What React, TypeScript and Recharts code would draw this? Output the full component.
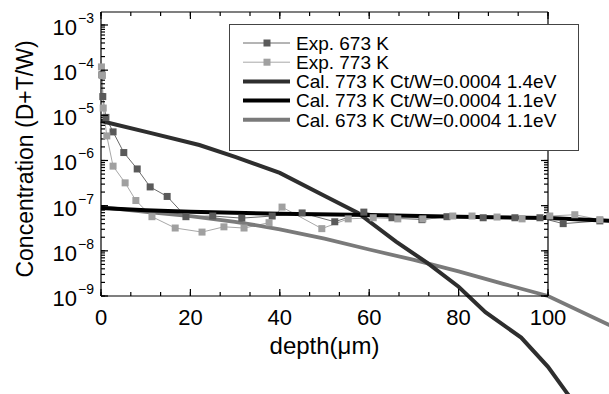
import React from 'react';
import { LineChart, Line, XAxis, YAxis, Legend, Label } from 'recharts';

// ---- data ----
const exp673X = [0.2, 0.4, 1.1, 2.7, 5.1, 8.1, 11.0, 14.8, 19.0, 25.0, 31.5, 38.3, 45.0, 52.3, 58.8, 65.1, 71.8, 77.4, 85.5, 92.6, 98.2, 103.4, 111.6];
const exp673Y = [7.9e-5, 2.6e-5, 9e-6, 4.3e-6, 1.5e-6, 6.5e-7, 2.6e-7, 1.6e-7, 5.7e-8, 5.9e-8, 5.3e-8, 5.9e-8, 6.9e-8, 4.4e-8, 7.2e-8, 5.4e-8, 4.9e-8, 5.7e-8, 5.4e-8, 5.4e-8, 5.4e-8, 4.0e-8, 4.6e-8];

const exp773X = [0.1, 0.3, 0.5, 1.3, 2.7, 5.4, 7.8, 11.4, 16.6, 22.6, 27.5, 32.0, 37.6, 40.5, 49.4, 55.3, 60.9, 66.4, 72.0, 78.7, 83.0, 88.6, 94.2, 100.4, 106.0, 111.6];
const exp773Y = [1.18e-4, 7.6e-5, 1.45e-5, 3.5e-6, 7.5e-7, 3.2e-7, 1.3e-7, 5.7e-8, 3.2e-8, 2.6e-8, 3.4e-8, 3.2e-8, 4.2e-8, 9.3e-8, 3.1e-8, 5.1e-8, 5.4e-8, 5.1e-8, 5.1e-8, 5.9e-8, 5.9e-8, 5.6e-8, 5.1e-8, 5.9e-8, 6.3e-8, 4.9e-8];

const cal773_14X = [0, 11, 22, 30, 40, 50.5, 57.5, 66, 73, 80, 86, 94, 100, 104.3, 110];
const cal773_14Y = [7.5e-6, 4.1e-6, 2.2e-6, 1.2e-6, 5.3e-7, 1.55e-7, 6.9e-8, 1.6e-8, 5.4e-9, 1.6e-9, 4.4e-10, 1.2e-10, 2.7e-11, 7e-12, 1.2e-12];

const cal773_11X = [0, 10, 20, 40, 60, 80, 100, 114];
const cal773_11Y = [8.9e-8, 7.9e-8, 7.3e-8, 6.6e-8, 6.2e-8, 5.7e-8, 5.3e-8, 4.6e-8];

const cal673_11X = [0, 10, 20, 30, 40, 50, 60, 70, 80, 90, 100, 114];
const cal673_11Y = [9.3e-8, 7.3e-8, 5.9e-8, 4.4e-8, 3.0e-8, 1.86e-8, 1.07e-8, 6.3e-9, 3.5e-9, 1.86e-9, 1.0e-9, 2.2e-10];

const seriesNames = [
  'Exp. 673 K',
  'Exp. 773 K',
  'Cal. 773 K Ct/W=0.0004 1.4eV',
  'Cal. 773 K Ct/W=0.0004 1.1eV',
  'Cal. 673 K Ct/W=0.0004 1.1eV',
];

const xMajorTicks = [0, 20, 40, 60, 80, 100];
const yMajorExponents = [-9, -8, -7, -6, -5, -4, -3];

// ---- derived ----
const zip = (xs: number[], ys: number[]) => xs.map((x, i) => ({ x, y: ys[i] }));
const exp673 = zip(exp673X, exp673Y);
const exp773 = zip(exp773X, exp773Y);
const cal773_14 = zip(cal773_14X, cal773_14Y);
const cal773_11 = zip(cal773_11X, cal773_11Y);
const cal673_11 = zip(cal673_11X, cal673_11Y);

const xTicks: number[] = [];
for (let i = 0; i < xMajorTicks.length - 1; i++) {
  const a = xMajorTicks[i];
  const b = xMajorTicks[i + 1];
  xTicks.push(a, a + (b - a) / 3, a + (2 * (b - a)) / 3);
}
xTicks.push(xMajorTicks[xMajorTicks.length - 1]);
const isXMajor = (v: number) => xMajorTicks.some((m) => Math.abs(m - v) < 1e-6);

const yTicks: number[] = [];
yMajorExponents.forEach((e, i) => {
  yTicks.push(Math.pow(10, e));
  if (i < yMajorExponents.length - 1) {
    for (let k = 2; k <= 9; k++) yTicks.push(k * Math.pow(10, e));
  }
});
const isYMajor = (v: number) => {
  const l = Math.log10(v);
  return Math.abs(l - Math.round(l)) < 1e-6;
};

const C_EXP673 = '#5a5a5a';
const C_EXP673_LINE = '#6a6a6a';
const C_EXP773 = '#a0a0a0';
const C_EXP773_LINE = '#a8a8a8';
const C_CAL14 = '#2e2e2e';
const C_CAL11 = '#000000';
const C_CAL673 = '#7a7a7a';

const FONT = '"Liberation Sans", Arial, sans-serif';
const MINOR = 4; // minor tick length (drawn by the axis, inward)
const MAJOR = 7; // major tick length

const legendRows = [
  { name: seriesNames[0], color: C_EXP673_LINE, marker: C_EXP673, width: 1 },
  { name: seriesNames[1], color: C_EXP773_LINE, marker: C_EXP773, width: 1 },
  { name: seriesNames[2], color: C_CAL14, marker: null, width: 4 },
  { name: seriesNames[3], color: C_CAL11, marker: null, width: 4 },
  { name: seriesNames[4], color: C_CAL673, marker: null, width: 4 },
];

const squareDot = (fill: string) => (p: any) => (
  <rect key={`d${p.index}`} x={p.cx - 3.5} y={p.cy - 3.5} width={7} height={7} fill={fill} />
);

// p.x / p.y are the inner end of the (inward) axis tick line
const BottomTick = (p: any) => {
  const v = p.payload.value;
  const major = isXMajor(v);
  const x = Number(p.x);
  const axisY = Number(p.y) + MINOR;
  return (
    <g>
      {major && <rect x={x - 0.6} y={axisY - MAJOR} width={1.2} height={MAJOR} fill="#000" />}
      {major && (
        <text x={x} y={axisY + 29} textAnchor="middle" fontSize={22} fill="#000" fontFamily={FONT}>
          {Math.round(v)}
        </text>
      )}
    </g>
  );
};

const TopTick = (p: any) => {
  const v = p.payload.value;
  const major = isXMajor(v);
  const x = Number(p.x);
  const axisY = Number(p.y) - MINOR;
  return <g>{major && <rect x={x - 0.6} y={axisY} width={1.2} height={MAJOR} fill="#000" />}</g>;
};

const LeftTick = (p: any) => {
  const v = p.payload.value;
  const major = isYMajor(v);
  const e = Math.round(Math.log10(v));
  const axisX = Number(p.x) - MINOR;
  const y = Number(p.y);
  return (
    <g>
      {major && <rect x={axisX} y={y - 0.6} width={MAJOR} height={1.2} fill="#000" />}
      {major && (
        <g fontFamily={FONT} fill="#000">
          <text x={axisX - 24} y={y + 10} textAnchor="end" fontSize={22}>10</text>
          <text x={axisX - 23} y={y - 2} textAnchor="start" fontSize={14}>{`\u2212${Math.abs(e)}`}</text>
        </g>
      )}
    </g>
  );
};

const RightTick = (p: any) => {
  const v = p.payload.value;
  const major = isYMajor(v);
  const axisX = Number(p.x) + MINOR;
  const y = Number(p.y);
  return <g>{major && <rect x={axisX - MAJOR} y={y - 0.6} width={MAJOR} height={1.2} fill="#000" />}</g>;
};

const YLabel = (props: any) => {
  const vb = props.viewBox || { x: 0, y: 12, width: 101, height: 284 };
  const cx = vb.x + 33;
  const cy = vb.y + vb.height / 2 + 5;
  return (
    <text transform={`translate(${cx}, ${cy}) rotate(-90)`} x={0} y={0} textAnchor="middle" fontSize={23} fill="#000" fontFamily={FONT}>
      Concentration (D+T/W)
    </text>
  );
};

const XLabel = (props: any) => {
  const vb = props.viewBox || { x: 101, y: 296, width: 447, height: 98 };
  return (
    <text x={vb.x + vb.width / 2} y={vb.y + 58} textAnchor="middle" fontSize={24} fill="#000" fontFamily={FONT}>
      depth(μm)
    </text>
  );
};

const LegendBox = () => (
  <svg width={350} height={127} style={{ display: 'block' }}>
    <rect x={0.5} y={0.5} width={349} height={126} fill="#fff" stroke="#444" strokeWidth={1} />
    {legendRows.map((r, i) => {
      const cy = 19 + i * 19.2;
      return (
        <g key={r.name}>
          <line x1={14} x2={61} y1={cy} y2={cy} stroke={r.color} strokeWidth={r.width} />
          {r.marker && <rect x={34.5} y={cy - 3.5} width={7} height={7} fill={r.marker} />}
          <text x={67} y={cy + 6.8} fontSize={19} fill="#000" fontFamily={FONT}>
            {r.name}
          </text>
        </g>
      );
    })}
  </svg>
);

const tickLineStyle = { stroke: '#000', strokeWidth: 1.2 };
const axisLineStyle = { stroke: '#000', strokeWidth: 1.2 };

export default function App() {
  return (
    <div style={{ width: 609, height: 394, background: '#fff' }}>
      <style>{`body{margin:0;} .recharts-wrapper *{clip-path:none !important;} .recharts-wrapper svg{overflow:visible;}`}</style>
      <LineChart width={609} height={394} margin={{ top: 11, right: 60, left: 0, bottom: 0 }} style={{ fontFamily: FONT }}>
        <XAxis
          xAxisId="b"
          dataKey="x"
          type="number"
          domain={[0, 100]}
          allowDataOverflow
          ticks={xTicks}
          interval={0}
          height={98}
          tickSize={-MINOR}
          tickMargin={0}
          tickLine={tickLineStyle}
          tick={<BottomTick />}
          axisLine={axisLineStyle}
          label={<Label content={<XLabel />} />}
        />
        <XAxis
          xAxisId="t"
          orientation="top"
          dataKey="x"
          type="number"
          domain={[0, 100]}
          allowDataOverflow
          ticks={xTicks}
          interval={0}
          height={1}
          tickSize={-MINOR}
          tickMargin={0}
          tickLine={tickLineStyle}
          tick={<TopTick />}
          axisLine={axisLineStyle}
        />
        <YAxis
          yAxisId="l"
          type="number"
          scale="log"
          domain={[1e-9, 1.94e-3]}
          allowDataOverflow
          ticks={yTicks}
          interval={0}
          width={101}
          tickSize={-MINOR}
          tickMargin={0}
          tickLine={tickLineStyle}
          tick={<LeftTick />}
          axisLine={axisLineStyle}
          label={<Label content={<YLabel />} />}
        />
        <YAxis
          yAxisId="r"
          orientation="right"
          type="number"
          scale="log"
          domain={[1e-9, 1.94e-3]}
          allowDataOverflow
          ticks={yTicks}
          interval={0}
          width={1}
          tickSize={-MINOR}
          tickMargin={0}
          tickLine={tickLineStyle}
          tick={<RightTick />}
          axisLine={axisLineStyle}
        />
        <Line xAxisId="b" yAxisId="l" data={exp673} dataKey="y" name={seriesNames[0]} stroke={C_EXP673_LINE} strokeWidth={1} dot={squareDot(C_EXP673)} isAnimationActive={false} />
        <Line xAxisId="b" yAxisId="l" data={exp773} dataKey="y" name={seriesNames[1]} stroke={C_EXP773_LINE} strokeWidth={1} dot={squareDot(C_EXP773)} isAnimationActive={false} />
        <Line xAxisId="b" yAxisId="l" data={cal673_11} dataKey="y" name={seriesNames[4]} stroke={C_CAL673} strokeWidth={3.8} dot={false} isAnimationActive={false} />
        <Line xAxisId="b" yAxisId="l" data={cal773_14} dataKey="y" name={seriesNames[2]} stroke={C_CAL14} strokeWidth={4} dot={false} isAnimationActive={false} />
        <Line xAxisId="b" yAxisId="l" data={cal773_11} dataKey="y" name={seriesNames[3]} stroke={C_CAL11} strokeWidth={4} dot={false} isAnimationActive={false} />
        <Legend
          layout="vertical"
          verticalAlign="middle"
          align="center"
          wrapperStyle={{ top: 24, left: 229, width: 350, height: 127 }}
          content={() => <LegendBox />}
        />
      </LineChart>
    </div>
  );
}
